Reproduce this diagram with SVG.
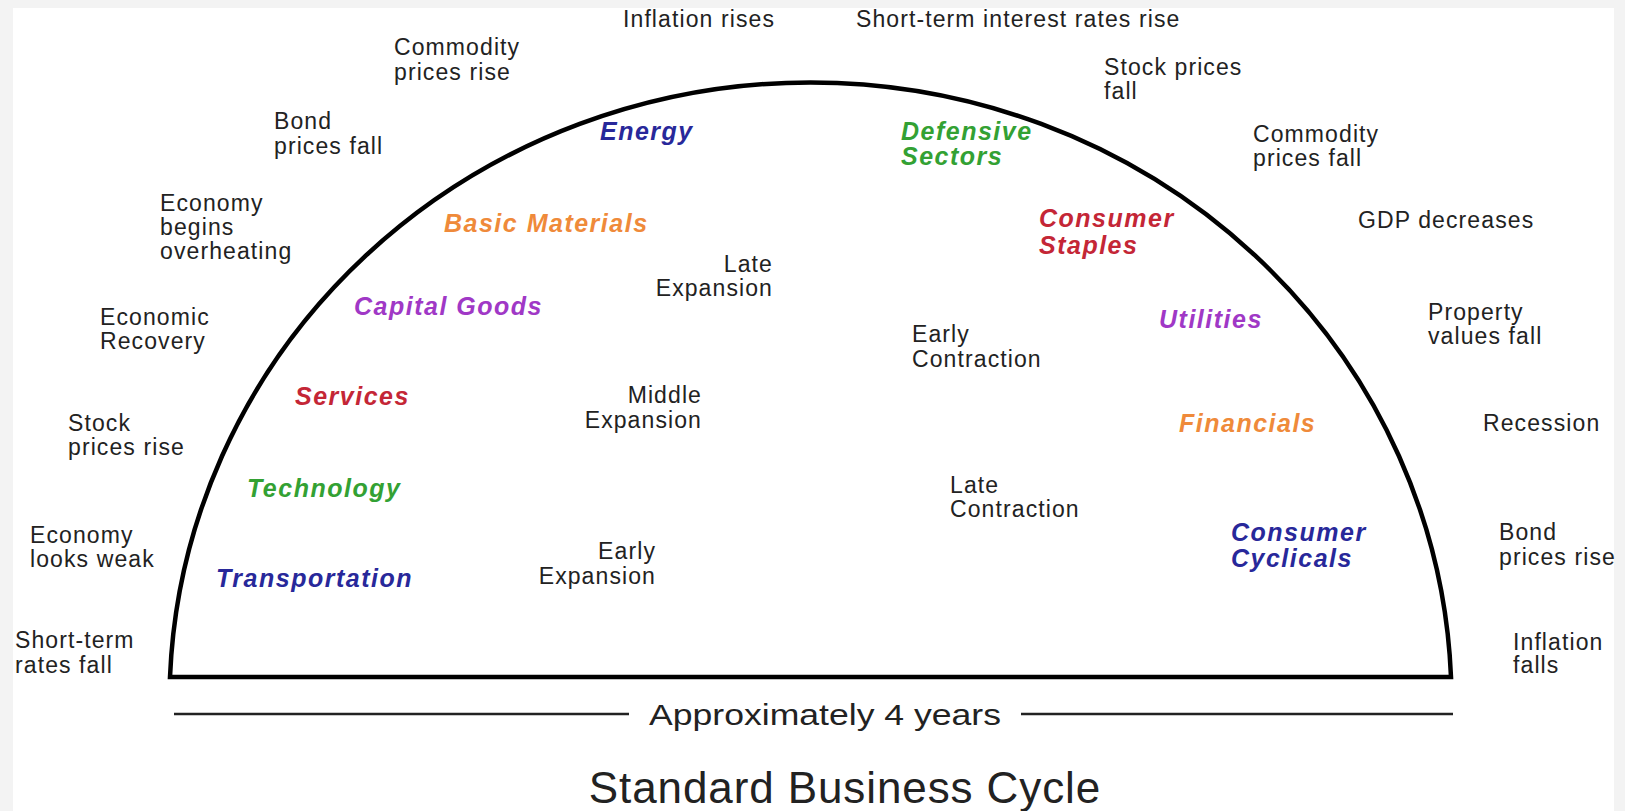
<svg xmlns="http://www.w3.org/2000/svg" width="1625" height="811" viewBox="0 0 1625 811">
  <style>
    .t { font-family: "Liberation Sans", Arial, Helvetica, sans-serif; font-size: 23px; letter-spacing: 1.1px; fill: #222; }
    .s { font-family: "Liberation Sans", Arial, Helvetica, sans-serif; font-size: 25px; font-weight: bold; font-style: italic; letter-spacing: 1.5px; }
    .end { text-anchor: end; }
    .blue { fill: #28289a; }
    .green { fill: #33a133; }
    .orange { fill: #ef8a3a; }
    .red { fill: #c42636; }
    .purple { fill: #a038c6; }
    .rule { stroke: #222; stroke-width: 2.5; fill: none; }
  </style>

  <!-- page frame -->
  <rect x="0" y="0" width="1625" height="811" fill="#f3f3f3"/>
  <rect x="13" y="8" width="1601" height="803" fill="#ffffff"/>

  <!-- the cycle: half ellipse on a flat base -->
  <g id="cycle">
    <path d="M170,677 A641,619 0 0 1 1451,677 Z" fill="none" stroke="#000" stroke-width="4.5" stroke-linejoin="miter"/>
  </g>

  <!-- duration rule under the base -->
  <g id="connectors">
    <line class="rule" x1="174" y1="714" x2="629" y2="714"/>
    <line class="rule" x1="1021" y1="714" x2="1453" y2="714"/>
  </g>

  <!-- economic conditions around the cycle -->
  <g id="short-rates-fall"><text class="t" x="15" y="648">Short-term</text><text class="t" x="15" y="673">rates fall</text></g>
  <g id="economy-weak"><text class="t" x="30" y="543">Economy</text><text class="t" x="30" y="567">looks weak</text></g>
  <g id="stocks-rise"><text class="t" x="68" y="431">Stock</text><text class="t" x="68" y="455">prices rise</text></g>
  <g id="recovery"><text class="t" x="100" y="325">Economic</text><text class="t" x="100" y="349">Recovery</text></g>
  <g id="overheating"><text class="t" x="160" y="211">Economy</text><text class="t" x="160" y="235">begins</text><text class="t" x="160" y="259">overheating</text></g>
  <g id="bonds-fall"><text class="t" x="274" y="129">Bond</text><text class="t" x="274" y="154">prices fall</text></g>
  <g id="commodities-rise"><text class="t" x="394" y="55">Commodity</text><text class="t" x="394" y="80">prices rise</text></g>
  <g id="inflation-rises"><text class="t" x="623" y="27">Inflation rises</text></g>
  <g id="short-rates-rise"><text class="t" x="856" y="27">Short-term interest rates rise</text></g>
  <g id="stocks-fall"><text class="t" x="1104" y="75">Stock prices</text><text class="t" x="1104" y="99">fall</text></g>
  <g id="commodities-fall"><text class="t" x="1253" y="142">Commodity</text><text class="t" x="1253" y="166">prices fall</text></g>
  <g id="gdp-decreases"><text class="t" x="1358" y="228">GDP decreases</text></g>
  <g id="property-falls"><text class="t" x="1428" y="320">Property</text><text class="t" x="1428" y="344">values fall</text></g>
  <g id="recession"><text class="t" x="1483" y="431">Recession</text></g>
  <g id="bonds-rise"><text class="t" x="1499" y="540">Bond</text><text class="t" x="1499" y="565">prices rise</text></g>
  <g id="inflation-falls"><text class="t" x="1513" y="650">Inflation</text><text class="t" x="1513" y="673">falls</text></g>

  <!-- phases inside the cycle -->
  <g id="early-expansion"><text class="t end" x="656" y="559">Early</text><text class="t end" x="656" y="584">Expansion</text></g>
  <g id="middle-expansion"><text class="t end" x="702" y="403">Middle</text><text class="t end" x="702" y="428">Expansion</text></g>
  <g id="late-expansion"><text class="t end" x="773" y="272">Late</text><text class="t end" x="773" y="296">Expansion</text></g>
  <g id="early-contraction"><text class="t" x="912" y="342">Early</text><text class="t" x="912" y="367">Contraction</text></g>
  <g id="late-contraction"><text class="t" x="950" y="493">Late</text><text class="t" x="950" y="517">Contraction</text></g>

  <!-- sectors -->
  <g id="transportation"><text class="s blue" x="216" y="587">Transportation</text></g>
  <g id="technology"><text class="s green" x="247" y="497">Technology</text></g>
  <g id="services"><text class="s red" x="295" y="405">Services</text></g>
  <g id="capital-goods"><text class="s purple" x="354" y="315">Capital Goods</text></g>
  <g id="basic-materials"><text class="s orange" x="444" y="232">Basic Materials</text></g>
  <g id="energy"><text class="s blue" x="600" y="140">Energy</text></g>
  <g id="defensive-sectors"><text class="s green" x="901" y="140">Defensive</text><text class="s green" x="901" y="165">Sectors</text></g>
  <g id="consumer-staples"><text class="s red" x="1039" y="227">Consumer</text><text class="s red" x="1039" y="254">Staples</text></g>
  <g id="utilities"><text class="s purple" x="1159" y="328">Utilities</text></g>
  <g id="financials"><text class="s orange" x="1179" y="432">Financials</text></g>
  <g id="consumer-cyclicals"><text class="s blue" x="1231" y="541">Consumer</text><text class="s blue" x="1231" y="567">Cyclicals</text></g>

  <!-- captions -->
  <g id="duration"><text x="825" y="725" text-anchor="middle" font-family="Liberation Sans, Arial, sans-serif" font-size="29" fill="#222" textLength="352" lengthAdjust="spacingAndGlyphs">Approximately 4 years</text></g>
  <g id="title"><text x="845" y="803" text-anchor="middle" font-family="Liberation Sans, Arial, sans-serif" font-size="44" fill="#222" letter-spacing="0.9">Standard Business Cycle</text></g>
</svg>
